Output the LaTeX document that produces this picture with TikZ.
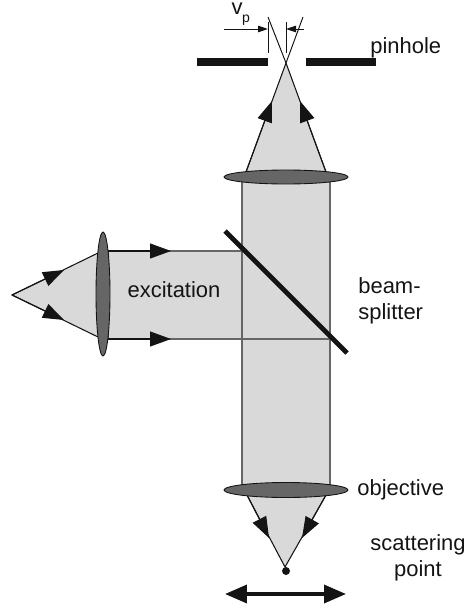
\documentclass[tikz,border=0pt]{standalone}
\usepackage{fontspec}
\setmainfont{Liberation Sans}
\usetikzlibrary{arrows.meta,shapes.geometric}
\definecolor{beamgray}{HTML}{D9D9D9}
\definecolor{lensgray}{HTML}{666666}
\definecolor{edgegray}{HTML}{666666}
\definecolor{inkblack}{HTML}{141414}
\begin{document}
\begin{tikzpicture}[
    x=0.02cm,y=-0.02cm,
    every node/.style={font=\fontsize{12.5}{14.6}\selectfont, text=inkblack, inner sep=0pt},
    beam/.style={draw=edgegray, line width=0.65pt, fill=beamgray},
    cone/.style={draw=inkblack, line width=0.6pt, fill=beamgray},
    lens/.style={draw=inkblack, line width=0.5pt, fill=lensgray},
    heavy/.style={draw=inkblack, line width=4pt},
    ray/.style={draw=inkblack, line width=0.6pt, -{Triangle[length=0.42cm,width=0.3cm]}},
    hairline/.style={draw=inkblack, line width=0.55pt},
    caption/.style={align=left, anchor=west}
]
    \useasboundingbox (0,0) rectangle (471,608);

    % beams
    \draw[beam] (108,251) rectangle (242,339);
    \draw[beam] (242,180) rectangle (330,485);
    \draw[beam] (242,339) -- (330,339);

    % cones
    \draw[cone] (246,172) -- (286,63) -- (326,172);
    \draw[cone] (247,495) -- (285,567) -- (326,495);
    \draw[cone] (98,253) -- (12,295) -- (98,337);
    \draw[ray] (246,172) -- (272,101);
    \draw[ray] (326,172) -- (300,101);
    \draw[ray] (247,495) -- (269,538);
    \draw[ray] (326,495) -- (302,538);
    \draw[ray] (12,295) -- (64,270);
    \draw[ray] (12,295) -- (64,320);
    \draw[ray] (108,251) -- (171,251);
    \draw[ray] (108,339) -- (171,339);

    % lenses
    \node[lens, ellipse, minimum width=2.48cm, minimum height=0.28cm] (tubelens) at (286,177) {};
    \node[lens, ellipse, minimum width=2.48cm, minimum height=0.3cm] (objlens) at (286,490) {};
    \node[lens, ellipse, minimum width=0.28cm, minimum height=2.48cm] (exclens) at (103,294) {};

    % pinhole and splitter
    \draw[heavy] (197,62) -- (268,62);
    \draw[heavy] (306,62) -- (376,62);
    \draw[draw=inkblack, line width=2.7pt] (225,231) -- (347,353);

    % pinhole size
    \draw[hairline] (268,17) -- (286,63) -- (303,17);
    \draw[hairline] (268,22) -- (268,53);
    \draw[hairline] (286,22) -- (286,53);
    \draw[hairline, -{Triangle[length=0.2cm,width=0.13cm]}] (224,29) -- (268,29);
    \draw[hairline, -{Triangle[length=0.2cm,width=0.13cm]}] (304,29) -- (286,29);

    % focus
    \fill[inkblack] (286,571) circle (4);
    \draw[inkblack, line width=2pt, {Triangle[length=0.44cm,width=0.36cm]}-{Triangle[length=0.44cm,width=0.36cm]}] (225,594) -- (346,594);

    \node (vlabel) at (237,9) {v};
    \node[font=\fontsize{8}{9}\selectfont] (plabel) at (246,20) {p};
    \node[caption] (pinhole) at (370,48) {pinhole};
    \node (excitation) at (174,290) {excitation};
    \node[caption] (splitter) at (358,301) {beam-\\splitter};
    \node[caption] (objective) at (357,490) {objective};
    \node[align=center] (point) at (418,558) {scattering\\point};
\end{tikzpicture}
\end{document}
